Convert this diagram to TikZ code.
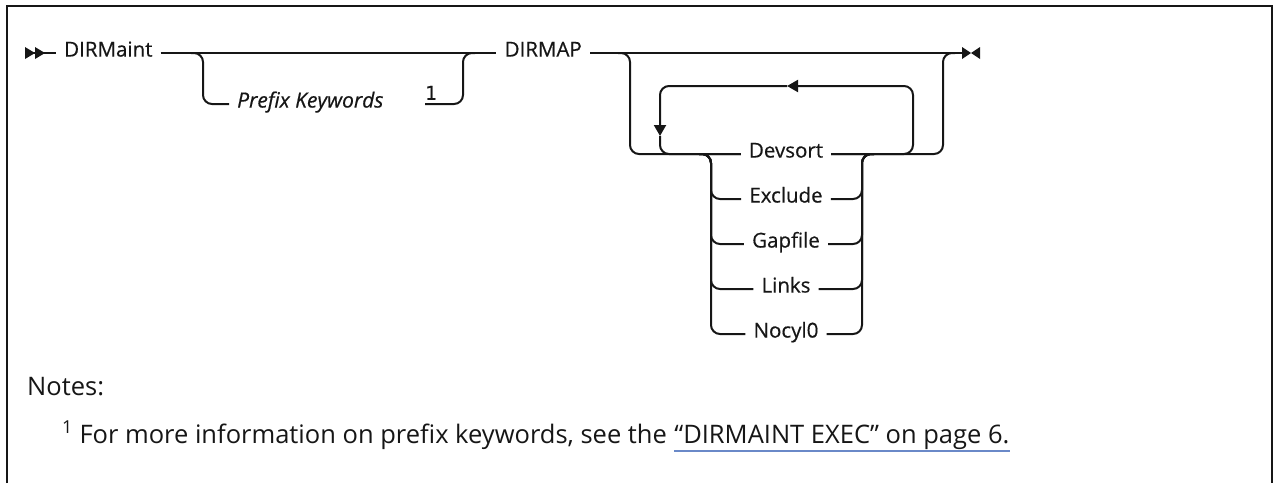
\documentclass[tikz,border=0pt]{standalone}
\usepackage{fontspec}
\setmainfont{Open Sans}
\newfontfamily\railfont[FakeBold=0.5]{Open Sans}
\newfontfamily\markfont[FakeBold=0.5]{DejaVu Sans Mono}
\usetikzlibrary{arrows.meta,positioning,calc}
\definecolor{ink}{RGB}{22,22,22}
\definecolor{linkblue}{RGB}{106,137,200}
\tikzset{
  rail/.style={draw=ink,line width=2pt,rounded corners=9pt},
  railtip/.style={rail,-{Triangle[length=11pt,width=12pt]}},
  kw/.style={font=\railfont\fontsize{20.5}{24}\selectfont,text=ink,inner xsep=8pt,
    inner ysep=0pt,text height=0.71em,text depth=0pt},
  opt/.style={kw,font=\railfont\itshape\fontsize{21}{24}\selectfont},
  notetext/.style={font=\fontsize{25.5}{28}\selectfont,text=ink,inner sep=0pt,anchor=base west},
  % rail end markers
  pics/railstart/.style={code={
    \fill[ink] (0,-6) -- (10,0) -- (0,6) -- cycle;
    \fill[ink] (10,-6) -- (20,0) -- (10,6) -- cycle;
  }},
  pics/railend/.style={code={
    \fill[ink] (0,-6) -- (9,0) -- (0,6) -- cycle;
    \fill[ink] (18,-6) -- (9,0) -- (18,6) -- cycle;
  }},
}
\begin{document}
\begin{tikzpicture}[x=1pt,y=-1pt]
  \useasboundingbox (0,0) rectangle (1273,483);
  \draw[ink,line width=2pt] (7,483) -- (7,6) -- (1272,6) -- (1272,483);

  % main line
  \coordinate (begin) at (25,53);
  \coordinate (endmark) at (962,53);
  \pic at (begin) {railstart};
  \pic at (endmark) {railend};
  \node[kw,anchor=west] (dirmaint) at (56,53) {DIRMaint};
  \node[kw,anchor=east] (dirmap) at (590,53) {DIRMAP};
  \draw[rail] (begin) -- (dirmaint);
  \draw[rail] (dirmaint) -- (dirmap);
  \draw[rail] (dirmap) -- (endmark);

  % optional prefix
  \coordinate (optL) at (203,53);
  \coordinate (optR) at (463,53);
  \node[opt,anchor=west] (prefix) at (229,104) {Prefix Keywords};
  \node[font=\markfont\fontsize{19}{21}\selectfont,text=ink,inner sep=0pt,anchor=south west] (fnmark) at (425,100) {1};
  \draw[rail] (optL) ++(-12,0) -- (optL) -- (optL |- prefix) -- (prefix);
  \draw[rail] (fnmark.west |- prefix) -- (optR |- prefix) -- (optR) -- ++(12,0);

  % repeatable choice
  \coordinate (grpL) at (630,53);
  \coordinate (grpR) at (943,53);
  \coordinate (loopL) at (660,86);
  \coordinate (loopR) at (913,86);
  \coordinate (backtip) at (787,86);
  \coordinate (downtip) at (660,136);
  \coordinate (stkL) at (711,154);
  \coordinate (stkR) at (862,154);
  \foreach \name/\word [count=\i from 0] in {devsort/Devsort,exclude/Exclude,gapfile/Gapfile,links/Links,nocyl/Nocyl0}
    \node[kw] (\name) at (786,154+45*\i) {\word};
  \draw[rail] (grpL) ++(-12,0) -- (grpL) -- (grpL |- devsort) -- (devsort);
  \draw[rail] (devsort) -- (grpR |- devsort) -- (grpR) -- ++(12,0);
  \draw[railtip] (devsort) -- (loopR |- devsort) -- (loopR) -- (backtip);
  \draw[railtip] (backtip) -- (loopL) -- (downtip);
  \draw[rail] (downtip) -- (loopL |- devsort) -- (devsort);
  \foreach \name in {exclude,gapfile,links,nocyl} {
    \draw[rail] (stkL) ++(-12,0) -- (stkL) -- (stkL |- \name) -- (\name);
    \draw[rail] (\name) -- (stkR |- \name) -- (stkR) -- ++(12,0);
  }

  % notes
  \node[notetext] (notes) at (27,395) {Notes:};
  \node[notetext] (fntext) at (62,443) {\textsuperscript{1} For more information on prefix keywords, see the};
  \node[notetext] (fnlink) at ([xshift=7pt]fntext.base east) {“DIRMAINT EXEC” on page 6.};
  \draw[linkblue,line width=1.6pt] ([yshift=-8pt]fnlink.base west) -- ([yshift=-8pt]fnlink.base east);
\end{tikzpicture}
\end{document}
